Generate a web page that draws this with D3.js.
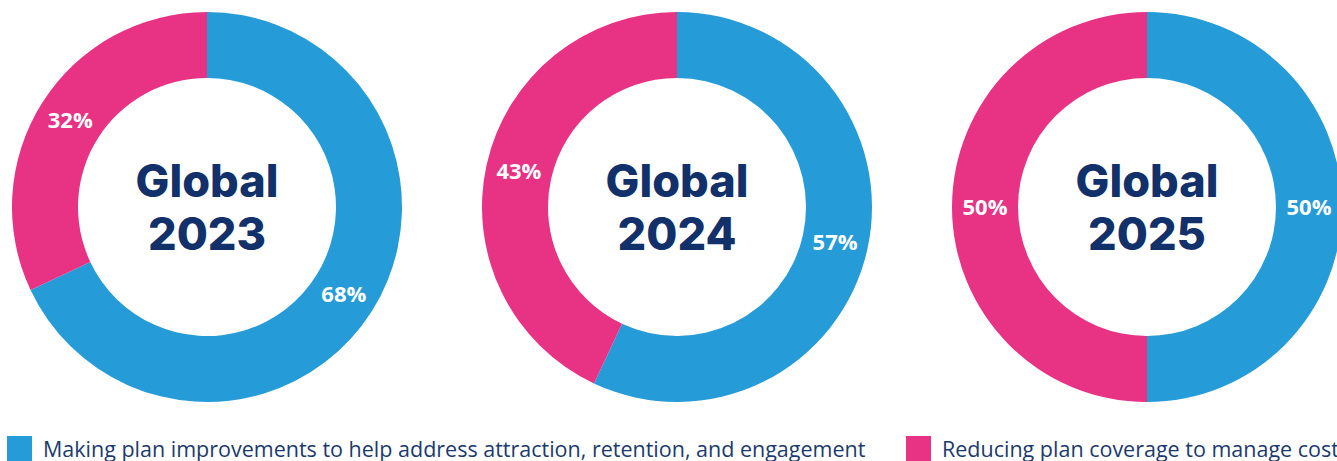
<!DOCTYPE html>
<html>
<head>
<meta charset="utf-8">
<script src="https://cdn.jsdelivr.net/npm/d3@7"></script>
<style>
  html, body { margin: 0; padding: 0; background: #fff; }
  svg { display: block; }
</style>
</head>
<body>
<svg width="1337" height="461"></svg>
<script>
// values
var years = ["2023", "2024", "2025"];
var improve = [68, 57, 50];
var reduce = [32, 43, 50];
var seriesNames = [
  "Making plan improvements to help address attraction, retention, and engagement",
  "Reducing plan coverage to manage costs"
];
var seriesColors = ["#259bd8", "#e83284"];

var canvas = d3.select("svg"),
    width = +canvas.attr("width"),
    height = +canvas.attr("height");

var outerR = 195, innerR = 129;

var x = d3.scalePoint().domain(years).range([207, 1147]);

var pie = d3.pie().sort(null).value(function(d) { return d.value; });
var arc = d3.arc().innerRadius(innerR).outerRadius(outerR);

years.forEach(function(year, i) {
  var slices = [
    { name: seriesNames[0], value: improve[i], color: seriesColors[0] },
    { name: seriesNames[1], value: reduce[i], color: seriesColors[1] }
  ];

  var g = canvas.append("g")
      .attr("transform", "translate(" + x(year) + ",207)");

  var arcs = pie(slices);

  g.selectAll("path")
    .data(arcs)
    .enter()
    .append("path")
      .attr("d", arc)
      .attr("fill", function(d) { return d.data.color; });

  g.selectAll("text.pct")
    .data(arcs)
    .enter()
    .append("text")
      .attr("class", "pct")
      .attr("transform", function(d) { return "translate(" + arc.centroid(d) + ")"; })
      .attr("dy", "0.35em")
      .attr("text-anchor", "middle")
      .attr("fill", "#fff")
      .style("font-family", "'Open Sans', sans-serif")
      .style("font-weight", 700)
      .style("font-size", "22px")
      .text(function(d) { return d.data.value + "%"; });

  // centre title
  var title = g.append("text")
      .attr("text-anchor", "middle")
      .attr("fill", "#12306a")
      .style("font-family", "Inter, sans-serif")
      .style("font-weight", 800)
      .style("font-size", "45px");
  title.append("tspan").attr("x", 0).attr("y", -10).text("Global");
  title.append("tspan").attr("x", 0).attr("y", 43).text(year);
});

// legend
var legend = canvas.append("g");
var legendX = [7, 906];
seriesNames.forEach(function(name, i) {
  var item = legend.append("g").attr("transform", "translate(" + legendX[i] + ",436)");
  item.append("rect")
      .attr("width", 25).attr("height", 25)
      .attr("fill", seriesColors[i]);
  item.append("text")
      .attr("x", 36).attr("y", 21)
      .attr("fill", "#1b3a6d")
      .style("font-family", "'Open Sans', sans-serif")
      .style("font-size", "21.5px")
      .text(name);
});
</script>
</body>
</html>
